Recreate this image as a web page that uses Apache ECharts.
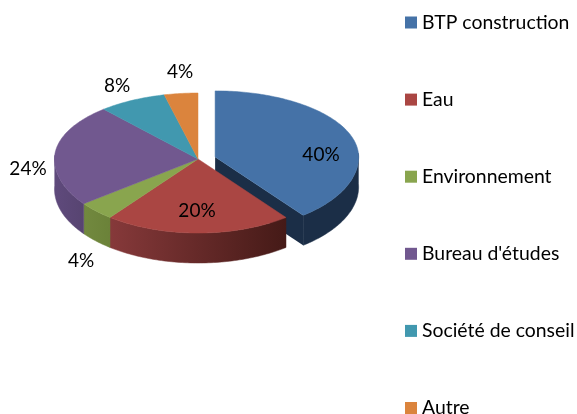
<!DOCTYPE html>
<html>
<head>
<meta charset="utf-8">
<style>
  html, body { margin: 0; padding: 0; background: #fff; }
  #chart { width: 577px; height: 414px; }
</style>
</head>
<body>
<div id="chart"></div>
<script src="https://cdn.jsdelivr.net/npm/echarts@6/dist/echarts.min.js"></script>
<script>
const categories = ['BTP construction', 'Eau', 'Environnement', "Bureau d'études", 'Société de conseil', 'Autre']
const shares = [40, 20, 4, 24, 8, 4]
const explode = [18, 0, 0, 0, 0, 0]

const topColors = ['#4572A7', '#AA4643', '#89A54E', '#71588F', '#4198AF', '#DB843D']
const wallLeft = ['#1B2E47', '#86393A', '#72893F', '#5F4A7C', '#35788C', '#A8642C']
const wallRight = ['#1B2E47', '#451A17', '#6B8239', '#574471', '#35788C', '#A8642C']
const labelSpots = [[321, 155], [197, 211], [81, 261], [28, 169], [117, 86], [180, 72]]

const FONT = 'Lato, "Open Sans", sans-serif'
const cx = 198, cy = 159
const rx = 143.5, ryBack = 66, ryFront = 74, depth = 30
const tilt = 3.1 // degrees, the tilted view pulls edges towards the viewer's side

const total = shares.reduce((a, b) => a + b, 0)
const starts = shares.map((_, i) => shares.slice(0, i).reduce((a, b) => a + b, 0) / total * 360)

// angles clockwise from 12 o'clock, front half is squashed less than the back
function rim(deg, ox, oy) {
  const seen = deg - tilt * Math.sin(deg * Math.PI / 180)
  const a = seen * Math.PI / 180
  const c = Math.cos(a)
  return [ox + rx * Math.sin(a), oy - (c > 0 ? ryBack : ryFront) * c]
}

function arc(from, to, ox, oy) {
  const pts = []
  const n = Math.max(2, Math.ceil(to - from))
  for (let k = 0; k <= n; k++) pts.push(rim(from + (to - from) * k / n, ox, oy))
  return pts
}

function sliceItem(i) {
  const from = starts[i]
  const to = from + shares[i] / total * 360
  const mid = (from + to) / 2 * Math.PI / 180
  const ox = cx + explode[i] * Math.sin(mid)
  const oy = cy - explode[i] * 0.38 * Math.cos(mid)
  const children = []

  const wallFill = pts => {
    const xs = pts.map(p => p[0])
    return {
      type: 'linear', global: true,
      x: Math.min(...xs), y: 0, x2: Math.max(...xs), y2: 0,
      colorStops: [{ offset: 0, color: wallLeft[i] }, { offset: 1, color: wallRight[i] }],
    }
  }

  // only the slice that sticks out shows its cut edge
  if (explode[i] > 0) {
    const tip = rim(to, ox, oy)
    children.push({
      type: 'polygon',
      shape: { points: [[ox, oy], tip, [tip[0], tip[1] + depth], [ox, oy + depth]] },
      style: { fill: wallLeft[i] },
    })
  }

  // outer wall, front half only
  const wallFrom = Math.max(from, 90)
  const wallTo = Math.min(to, 270)
  if (wallTo > wallFrom) {
    const edge = arc(wallFrom, wallTo, ox, oy)
    const lower = edge.map(p => [p[0], p[1] + depth]).reverse()
    const pts = edge.concat(lower)
    const fill = wallFill(pts)
    children.push({ type: 'polygon', shape: { points: pts }, style: { fill, stroke: fill, lineWidth: 0.5 } })
  }

  children.push({
    type: 'polygon',
    shape: { points: [[ox, oy]].concat(arc(from, to, ox, oy)) },
    style: { fill: topColors[i], stroke: topColors[i], lineWidth: 0.5 },
  })

  children.push({
    type: 'text',
    z2: 10,
    style: {
      x: labelSpots[i][0], y: labelSpots[i][1],
      text: shares[i] + '%',
      fill: '#000', font: '19px ' + FONT,
      align: 'center', verticalAlign: 'middle',
    },
  })
  return { type: 'group', children }
}

const chart = echarts.init(document.getElementById('chart'), null, { renderer: 'canvas' })

chart.setOption({
  animation: false,
  backgroundColor: '#fff',
  legend: {
    orient: 'vertical',
    left: 405,
    top: 13,
    height: 600,
    itemWidth: 12,
    itemHeight: 12,
    itemGap: 58.1,
    icon: 'rect',
    selectedMode: false,
    padding: 0,
    data: categories,
    textStyle: { color: '#000', fontSize: 19.4, lineHeight: 18, fontFamily: FONT },
  },
  series: categories.map((name, i) => ({
    type: 'custom',
    name,
    coordinateSystem: 'none',
    silent: true,
    itemStyle: { color: topColors[i] },
    data: [shares[i]],
    renderItem: () => sliceItem(i),
  })),
})
</script>
</body>
</html>
